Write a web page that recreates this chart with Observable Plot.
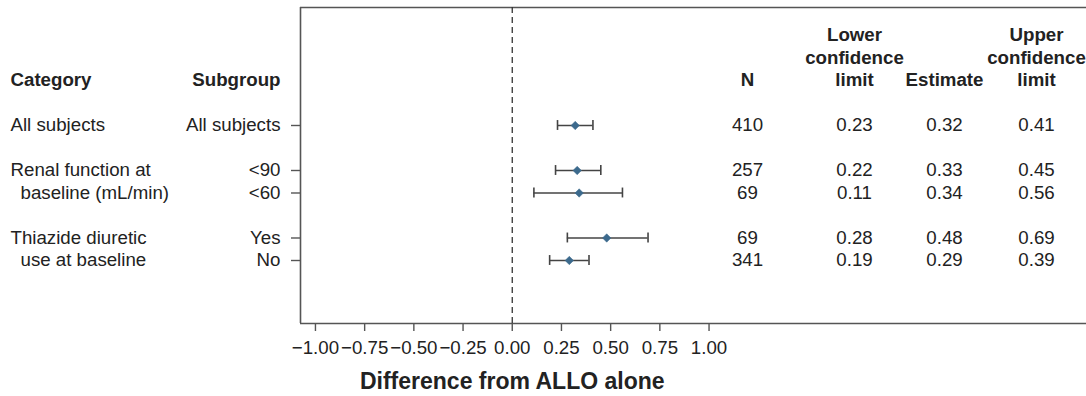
<!DOCTYPE html>
<html>
<head>
<meta charset="utf-8">
<script src="https://cdn.jsdelivr.net/npm/d3@7"></script>
<script src="https://cdn.jsdelivr.net/npm/@observablehq/plot@0.6"></script>
<style>
  html, body { margin: 0; padding: 0; background: #fff; }
  #chart { width: 1086px; height: 396px; }
</style>
</head>
<body>
<div id="chart"></div>
<script>
// ---- data ----
const categoryLines = [["All subjects"], ["Renal function at", "baseline (mL/min)"], ["Thiazide diuretic", "use at baseline"]];
const subgroups = [["All subjects"], ["<90", "<60"], ["Yes", "No"]];
const nValues = [410, 257, 69, 69, 341];
const lowerCL = [0.23, 0.22, 0.11, 0.28, 0.19];
const estimates = [0.32, 0.33, 0.34, 0.48, 0.29];
const upperCL = [0.41, 0.45, 0.56, 0.69, 0.39];
const xTicks = [-1, -0.75, -0.5, -0.25, 0, 0.25, 0.5, 0.75, 1];
const columnHeaders = [["N"], ["Lower", "confidence", "limit"], ["Estimate"], ["Upper", "confidence", "limit"]];
const leftHeaders = ["Category", "Subgroup"];
const xLabel = "Difference from ALLO alone";

// ---- layout ----
const FONT = "'Liberation Sans', Arial, Helvetica, sans-serif";
const FS = 18.7;
const INK = "#222";
const FRAME = "#555";
const colOffsets = [447, 554, 644, 736]; // px from the frame's left edge (column centers)
const headerRow = -2;
const yDomain = [-5.244, 8.8];
const xDomain = [-1.076, 2.918];
const capHalf = 0.22;

// build row table: blank row between groups
const rows = [];
const catText = [];
let r = 0, k = 0;
subgroups.forEach((g, gi) => {
  g.forEach((s, j) => {
    rows.push({row: r, subgroup: s, n: nValues[k], lo: lowerCL[k], est: estimates[k], hi: upperCL[k]});
    if (categoryLines[gi][j] !== undefined) catText.push({row: r, text: categoryLines[gi][j], indent: j > 0});
    r++; k++;
  });
  r++;
});
const labelByRow = new Map(rows.map(d => [d.row, d.subgroup]));

const headerText = [];
columnHeaders.forEach((lines, ci) => {
  lines.forEach((t, li) => headerText.push({col: ci, row: headerRow - (lines.length - 1 - li), text: t}));
});

const fmt2 = d3.format(".2f");
const tableCols = [
  {key: "n", f: d => String(d)},
  {key: "lo", f: fmt2},
  {key: "est", f: fmt2},
  {key: "hi", f: fmt2}
];

const chart = Plot.plot({
  width: 1086,
  height: 396,
  marginLeft: 300,
  marginRight: 0,
  marginTop: 7,
  marginBottom: 73,
  style: {fontFamily: FONT, fontSize: FS + "px", color: INK, background: "#fff", overflow: "visible"},
  x: {domain: xDomain, axis: null},
  y: {domain: yDomain, reverse: true, axis: null},
  marks: [
    // frame: top, bottom, left
    Plot.ruleY(yDomain, {stroke: FRAME, strokeWidth: 1.6}),
    Plot.ruleX([xDomain[0]], {stroke: FRAME, strokeWidth: 1.6}),
    // reference line at zero
    Plot.ruleX([0], {stroke: "#333", strokeWidth: 1.3, strokeDasharray: "6,4"}),
    // x axis
    Plot.axisX({ticks: xTicks, tickFormat: d3.format(".2f"), tickSize: 8, tickPadding: 9, fontSize: FS, stroke: FRAME, strokeWidth: 1.4, fill: INK, label: null}),
    // y axis (subgroup labels)
    Plot.axisY({ticks: rows.map(d => d.row), tickFormat: v => labelByRow.get(v), tickSize: 9, tickPadding: 11, fontSize: FS, stroke: FRAME, strokeWidth: 1.4, fill: INK, label: null}),
    // confidence intervals
    Plot.ruleY(rows, {y: "row", x1: "lo", x2: "hi", stroke: "#444", strokeWidth: 1.6}),
    Plot.ruleX(rows, {x: "lo", y1: d => d.row - capHalf, y2: d => d.row + capHalf, stroke: "#444", strokeWidth: 1.6}),
    Plot.ruleX(rows, {x: "hi", y1: d => d.row - capHalf, y2: d => d.row + capHalf, stroke: "#444", strokeWidth: 1.6}),
    Plot.dot(rows, {x: "est", y: "row", symbol: "diamond2", r: 3.8, fill: "#3c6a8d", stroke: "#3c6a8d", strokeWidth: 0.5}),
    // category column
    Plot.text(catText, {frameAnchor: "left", y: "row", text: "text", dx: -290, textAnchor: "start", fontSize: FS, fill: INK,
      filter: d => !d.indent}),
    Plot.text(catText, {frameAnchor: "left", y: "row", text: "text", dx: -280, textAnchor: "start", fontSize: FS, fill: INK,
      filter: d => d.indent}),
    // left headers
    Plot.text([leftHeaders[0]], {frameAnchor: "left", y: () => headerRow, dx: -290, textAnchor: "start", fontWeight: "bold", fontSize: FS, fill: INK}),
    Plot.text([leftHeaders[1]], {frameAnchor: "left", y: () => headerRow, dx: -20, textAnchor: "end", fontWeight: "bold", fontSize: FS, fill: INK}),
    // table headers
    ...colOffsets.map((off, ci) => Plot.text(headerText.filter(d => d.col === ci), {frameAnchor: "left", y: "row", text: "text", dx: off, textAnchor: "middle", fontWeight: "bold", fontSize: FS, fill: INK})),
    // table values
    ...tableCols.map((c, ci) => Plot.text(rows, {frameAnchor: "left", y: "row", text: d => c.f(d[c.key]), dx: colOffsets[ci], textAnchor: "middle", fontSize: FS, fill: INK})),
    // x label
    Plot.text([xLabel], {x: () => 0, frameAnchor: "bottom", dy: 65, fontWeight: "bold", fontSize: 23, fill: INK})
  ]
});
document.getElementById("chart").appendChild(chart);
</script>
</body>
</html>
